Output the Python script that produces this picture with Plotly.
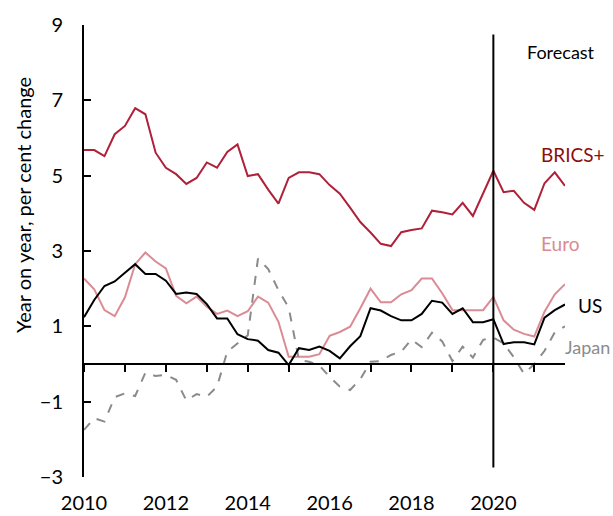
import plotly.graph_objects as go

# Quarterly data 2010Q1 .. 2021Q4
start_year = 2010
n_quarters = 48
quarters = [start_year + i / 4 for i in range(n_quarters)]

brics = [5.68, 5.68, 5.52, 6.10, 6.32, 6.79, 6.63, 5.61, 5.21, 5.04, 4.78, 4.94,
         5.35, 5.21, 5.63, 5.83, 4.99, 5.04, 4.63, 4.26, 4.94, 5.09, 5.09, 5.04,
         4.75, 4.52, 4.15, 3.77, 3.49, 3.19, 3.13, 3.50, 3.56, 3.60, 4.07, 4.03,
         3.97, 4.28, 3.93, 4.53, 5.13, 4.56, 4.60, 4.28, 4.09, 4.80, 5.09, 4.73]

euro = [2.27, 1.98, 1.43, 1.27, 1.77, 2.65, 2.96, 2.72, 2.54, 1.81, 1.61, 1.79,
        1.52, 1.33, 1.42, 1.27, 1.40, 1.79, 1.63, 1.12, 0.19, 0.19, 0.19, 0.26,
        0.75, 0.85, 0.99, 1.48, 2.00, 1.64, 1.64, 1.85, 1.96, 2.27, 2.27, 1.88,
        1.43, 1.43, 1.43, 1.43, 1.78, 1.16, 0.91, 0.80, 0.73, 1.39, 1.85, 2.12]

us = [1.24, 1.70, 2.07, 2.19, 2.42, 2.65, 2.39, 2.39, 2.21, 1.86, 1.90, 1.86,
      1.59, 1.21, 1.21, 0.79, 0.66, 0.62, 0.37, 0.30, -0.03, 0.42, 0.37, 0.46,
      0.35, 0.15, 0.47, 0.74, 1.48, 1.42, 1.27, 1.16, 1.16, 1.33, 1.68, 1.63,
      1.33, 1.48, 1.11, 1.11, 1.19, 0.53, 0.58, 0.58, 0.52, 1.23, 1.43, 1.58]

japan = [-1.75, -1.44, -1.53, -0.88, -0.78, -0.85, -0.23, -0.32, -0.29, -0.42, -0.97, -0.80,
         -0.87, -0.60, 0.33, 0.54, 0.76, 2.80, 2.52, 1.96, 1.50, 0.11, 0.06, -0.04,
         -0.34, -0.60, -0.69, -0.40, 0.06, 0.08, 0.24, 0.33, 0.65, 0.45, 0.83, 0.60,
         0.08, 0.46, 0.17, 0.64, 0.70, 0.55, 0.18, -0.26, 0.00, 0.35, 0.84, 1.00]

year_ticks = list(range(2010, 2022))
label_ticks = [2010, 2012, 2014, 2016, 2018, 2020]
y_ticks = [-3, -1, 1, 3, 5, 7, 9]
forecast_year = 2020

FONT = "Lato"
W, H = 613, 516
ML, MR, MT, MB = 84, 48, 25, 39

fig = go.Figure()

fig.add_trace(go.Scatter(x=quarters, y=brics, mode="lines", name="BRICS+",
                         line=dict(color="#AE2139", width=2)))
fig.add_trace(go.Scatter(x=quarters, y=euro, mode="lines", name="Euro",
                         line=dict(color="#DB8B93", width=2)))
fig.add_trace(go.Scatter(x=quarters, y=japan, mode="lines", name="Japan",
                         line=dict(color="#8A8A8A", width=2, dash="dash")))
fig.add_trace(go.Scatter(x=quarters, y=us, mode="lines", name="US", xaxis="x2",
                         line=dict(color="#000000", width=2)))

xr = [quarters[0], quarters[-1]]

fig.update_layout(
    width=W, height=H,
    margin=dict(l=ML, r=MR, t=MT, b=MB, autoexpand=False),
    paper_bgcolor="white", plot_bgcolor="white",
    showlegend=False,
    font=dict(family=FONT, size=20, color="black"),
    xaxis=dict(range=xr, anchor="free", position=0.25, automargin=False,
               tickvals=year_ticks, ticks="outside", ticklen=7, tickwidth=2,
               tickcolor="black", showticklabels=False,
               showline=True, linecolor="black", linewidth=2,
               showgrid=False, zeroline=False),
    xaxis2=dict(range=xr, overlaying="x", anchor="y", side="bottom", automargin=False,
                tickvals=label_ticks, ticktext=[str(t) for t in label_ticks],
                ticks="", showline=False, showgrid=False, zeroline=False,
                ticklabelstandoff=12,
                tickfont=dict(family=FONT, size=20, color="black")),
    yaxis=dict(range=[y_ticks[0], y_ticks[-1]], tickvals=y_ticks, automargin=False,
               ticks="inside", ticklen=7, tickwidth=2, tickcolor="black",
               showline=True, linecolor="black", linewidth=2,
               showgrid=False, zeroline=False, ticklabelstandoff=15,
               tickfont=dict(family=FONT, size=20, color="black")),
)

fig.add_shape(type="line", xref="x", yref="y", x0=forecast_year, x1=forecast_year,
              y0=-2.75, y1=8.75, line=dict(color="black", width=2))

def px_to_paper(px):
    return (px - ML) / (W - ML - MR)

def py_to_paper(py):
    return (H - MB - py) / (H - MB - MT)

ann = [
    ("Forecast", 561, 52, "black", 18),
    ("BRICS+", 573, 154, "#8B0E0E", 19),
    ("Euro", 560, 243, "#D98A91", 19),
    ("US", 590, 305, "black", 19),
    ("Japan", 587, 347, "#8C8C8C", 18),
]
for text, px, py, col, sz in ann:
    fig.add_annotation(text=text, xref="paper", yref="paper",
                       x=px_to_paper(px), y=py_to_paper(py),
                       xanchor="center", yanchor="middle", showarrow=False,
                       font=dict(family=FONT, size=sz, color=col))

fig.add_annotation(text="Year on year, per cent change", xref="paper", yref="paper",
                   x=px_to_paper(23), y=py_to_paper(205), textangle=-90,
                   xanchor="center", yanchor="middle", showarrow=False,
                   font=dict(family=FONT, size=20, color="black"))

fig.write_html("out.html", config={"displayModeBar": False},
               post_script="document.body.style.margin='0';document.body.style.overflow='hidden';")
